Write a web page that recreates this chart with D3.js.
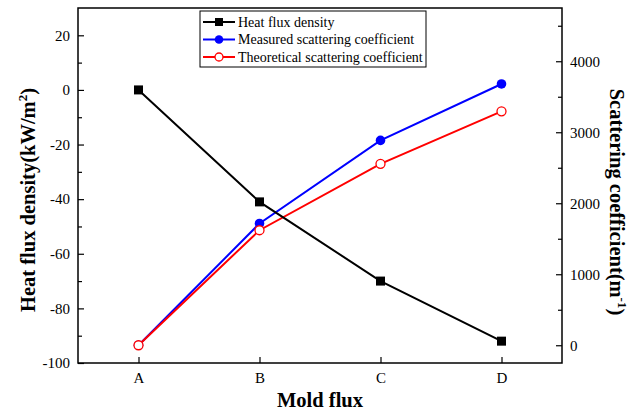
<!DOCTYPE html>
<html>
<head>
<meta charset="utf-8">
<script src="https://cdn.jsdelivr.net/npm/d3@7"></script>
<style>
  body { margin: 0; background: #fff; }
  text { font-family: "Liberation Serif", "Times New Roman", serif; }
</style>
</head>
<body>
<div id="chart"></div>
<script>
//data
var fluxes = ["A", "B", "C", "D"];
var heatFlux = [0, -41, -70, -92];
var measured = [0, 1715, 2885, 3680];
var theoretical = [0, 1620, 2555, 3295];
var leftTicks = [-100, -80, -60, -40, -20, 0, 20];
var rightTicks = [0, 1000, 2000, 3000, 4000];

var w = 637;
var h = 414;
var margin = { left: 78, right: 75, top: 8, bottom: 51 };

var svg = d3
  .select("#chart")
  .append("svg")
  .attr("width", w)
  .attr("height", h);

//scales
var xScale = d3
  .scalePoint()
  .domain(fluxes)
  .range([margin.left, w - margin.right])
  .padding(0.5);

var yLeft = d3
  .scaleLinear()
  .domain([-100, 30])
  .range([h - margin.bottom, margin.top]);

var yRight = d3
  .scaleLinear()
  .domain([-250, 4750])
  .range([h - margin.bottom, margin.top]);

var x0 = margin.left;
var x1 = w - margin.right;
var yb = h - margin.bottom;

//frame
svg
  .append("rect")
  .attr("x", x0)
  .attr("y", margin.top)
  .attr("width", x1 - x0)
  .attr("height", yb - margin.top)
  .attr("fill", "none")
  .attr("stroke", "#000")
  .attr("stroke-width", 1.5);

//plain hyphen for negatives, like the original
var fmt = function (d) {
  return String(d);
};

//left axis, ticks pointing inward
var leftAxis = d3.axisRight(yLeft).tickValues(leftTicks).tickSize(6).tickFormat(fmt);
var gl = svg.append("g").attr("transform", "translate(" + x0 + ",0)").call(leftAxis);
gl.select(".domain").remove();
gl.selectAll("text").attr("x", -8).attr("text-anchor", "end");

var leftMinor = d3.axisRight(yLeft).tickValues(d3.range(-90, 30, 20)).tickSize(4).tickFormat("");
svg.append("g").attr("transform", "translate(" + x0 + ",0)").call(leftMinor).select(".domain").remove();

//right axis
var rightAxis = d3.axisLeft(yRight).tickValues(rightTicks).tickSize(6).tickFormat(fmt);
var gr = svg.append("g").attr("transform", "translate(" + x1 + ",0)").call(rightAxis);
gr.select(".domain").remove();
gr.selectAll("text").attr("x", 8).attr("text-anchor", "start");

var rightMinor = d3.axisLeft(yRight).tickValues([500, 1500, 2500, 3500, 4500]).tickSize(4).tickFormat("");
svg.append("g").attr("transform", "translate(" + x1 + ",0)").call(rightMinor).select(".domain").remove();

//bottom axis
var bottomAxis = d3.axisTop(xScale).tickSize(6);
var gb = svg.append("g").attr("transform", "translate(0," + yb + ")").call(bottomAxis);
gb.select(".domain").remove();
gb.selectAll("text").attr("y", 15).attr("dy", "0.32em");

svg.selectAll("g").attr("font-family", null);
svg.selectAll(".tick line").attr("stroke", "#000").attr("stroke-width", 1.2);
svg
  .selectAll(".tick text")
  .style("font-size", "15px")
  .style("font-family", '"Liberation Serif", serif')
  .attr("fill", "#000");

//lines
var lineLeft = d3
  .line()
  .x(function (d, i) {
    return xScale(fluxes[i]);
  })
  .y(function (d) {
    return yLeft(d);
  });

var lineRight = d3
  .line()
  .x(function (d, i) {
    return xScale(fluxes[i]);
  })
  .y(function (d) {
    return yRight(d);
  });

svg.append("path").datum(measured).attr("d", lineRight).attr("fill", "none").attr("stroke", "#0000ff").attr("stroke-width", 2);
svg.append("path").datum(theoretical).attr("d", lineRight).attr("fill", "none").attr("stroke", "#ff0000").attr("stroke-width", 2);
svg.append("path").datum(heatFlux).attr("d", lineLeft).attr("fill", "none").attr("stroke", "#000").attr("stroke-width", 2);

//markers
svg
  .selectAll(".sq")
  .data(heatFlux)
  .enter()
  .append("rect")
  .attr("x", function (d, i) {
    return xScale(fluxes[i]) - 4.5;
  })
  .attr("y", function (d) {
    return yLeft(d) - 4.5;
  })
  .attr("width", 9)
  .attr("height", 9)
  .attr("fill", "#000");

svg
  .selectAll(".meas")
  .data(measured)
  .enter()
  .append("circle")
  .attr("cx", function (d, i) {
    return xScale(fluxes[i]);
  })
  .attr("cy", function (d) {
    return yRight(d);
  })
  .attr("r", 4.8)
  .attr("fill", "#0000ff");

svg
  .selectAll(".theo")
  .data(theoretical)
  .enter()
  .append("circle")
  .attr("cx", function (d, i) {
    return xScale(fluxes[i]);
  })
  .attr("cy", function (d) {
    return yRight(d);
  })
  .attr("r", 4.5)
  .attr("fill", "#fff")
  .attr("stroke", "#ff0000")
  .attr("stroke-width", 1.3);

//axis titles
var lt = svg
  .append("text")
  .attr("transform", "translate(35,200) rotate(-90)")
  .attr("text-anchor", "middle")
  .style("font-size", "20.5px")
  .style("font-weight", "bold");
lt.append("tspan").text("Heat flux density(kW/m");
lt.append("tspan").attr("dy", -8).style("font-size", "13px").text("2");
lt.append("tspan").attr("dy", 8).text(")");

var rt = svg
  .append("text")
  .attr("transform", "translate(610,202) rotate(90)")
  .attr("text-anchor", "middle")
  .style("font-size", "20.5px")
  .style("font-weight", "bold");
rt.append("tspan").text("Scattering coefficient(m");
rt.append("tspan").attr("dy", -8).style("font-size", "13px").text("-1");
rt.append("tspan").attr("dy", 8).text(")");

svg
  .append("text")
  .attr("x", (x0 + x1) / 2)
  .attr("y", 407)
  .attr("text-anchor", "middle")
  .style("font-size", "20.5px")
  .style("font-weight", "bold")
  .text("Mold flux");

//legend
var legendItems = [
  { name: "Heat flux density", color: "#000", kind: "square" },
  { name: "Measured scattering coefficient", color: "#0000ff", kind: "dot" },
  { name: "Theoretical scattering coefficient", color: "#ff0000", kind: "open" },
];

var legend = svg.append("g").attr("transform", "translate(200,11)");
legend
  .append("rect")
  .attr("width", 226)
  .attr("height", 56)
  .attr("fill", "#fff")
  .attr("stroke", "#000")
  .attr("stroke-width", 1);

var rows = legend
  .selectAll(".row")
  .data(legendItems)
  .enter()
  .append("g")
  .attr("transform", function (d, i) {
    return "translate(0," + (11 + i * 17.5) + ")";
  });

rows
  .append("line")
  .attr("x1", 3)
  .attr("x2", 35)
  .attr("stroke", function (d) {
    return d.color;
  })
  .attr("stroke-width", 2);

rows.each(function (d) {
  var g = d3.select(this);
  if (d.kind === "square") {
    g.append("rect").attr("x", 15).attr("y", -4).attr("width", 8).attr("height", 8).attr("fill", "#000");
  } else if (d.kind === "dot") {
    g.append("circle").attr("cx", 19).attr("r", 4.3).attr("fill", d.color);
  } else {
    g.append("circle").attr("cx", 19).attr("r", 4).attr("fill", "#fff").attr("stroke", d.color).attr("stroke-width", 1.3);
  }
});

rows
  .append("text")
  .attr("x", 38)
  .attr("dy", "0.35em")
  .style("font-size", "14px")
  .text(function (d) {
    return d.name;
  });
</script>
</body>
</html>
